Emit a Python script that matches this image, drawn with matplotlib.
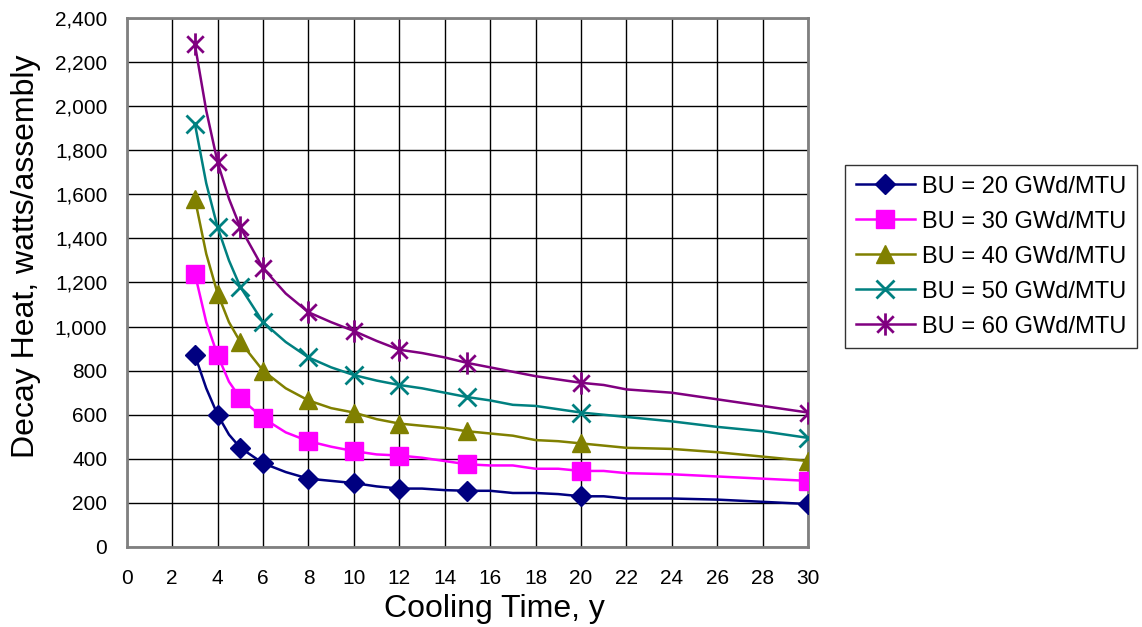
import matplotlib
matplotlib.use("Agg")
import matplotlib.pyplot as plt
from matplotlib.path import Path
from matplotlib.ticker import FuncFormatter

# ---- data ----
line_x = [3, 3.5, 4, 4.5, 5, 6, 7, 8, 9, 10, 11, 12, 13, 14, 15, 16, 17, 18, 19, 20, 21, 22, 24, 26, 28, 30]
marker_x = [3, 4, 5, 6, 8, 10, 12, 15, 20, 30]

bu20 = [870, 720, 600, 510, 450, 380, 340, 310, 300, 290, 275, 265, 265, 258, 255, 255, 245, 245, 240, 230, 230, 220, 220, 215, 205, 195]
bu30 = [1240, 1020, 870, 750, 675, 585, 520, 480, 455, 435, 420, 415, 405, 390, 375, 370, 370, 355, 355, 345, 345, 335, 330, 320, 310, 300]
bu40 = [1580, 1330, 1150, 1020, 930, 800, 720, 665, 630, 610, 580, 560, 550, 540, 525, 515, 505, 485, 480, 470, 460, 450, 445, 430, 410, 390]
bu50 = [1920, 1650, 1450, 1300, 1180, 1020, 930, 860, 815, 780, 755, 735, 720, 700, 680, 665, 645, 640, 625, 610, 600, 590, 570, 545, 525, 495]
bu60 = [2280, 1980, 1745, 1580, 1450, 1265, 1150, 1065, 1020, 980, 935, 895, 880, 860, 835, 815, 795, 775, 760, 745, 735, 715, 700, 670, 640, 610]

labels = ["BU = 20 GWd/MTU", "BU = 30 GWd/MTU", "BU = 40 GWd/MTU",
          "BU = 50 GWd/MTU", "BU = 60 GWd/MTU"]
colors = ["#000080", "#FF00FF", "#808000", "#008080", "#800080"]

x_ticks = list(range(0, 31, 2))
y_ticks = list(range(0, 2401, 200))

plt.rcParams["font.family"] = ["Liberation Sans", "DejaVu Sans"]

# asterisk marker (x plus vertical bar)
star = Path([(-1, -1), (1, 1), (-1, 1), (1, -1), (0, -1.35), (0, 1.35)],
            [Path.MOVETO, Path.LINETO, Path.MOVETO, Path.LINETO, Path.MOVETO, Path.LINETO])

fig = plt.figure(figsize=(11.42, 6.27), dpi=100)
ax = fig.add_axes([0.111, 0.1276, 0.5966, 0.8437])

series = [bu20, bu30, bu40, bu50, bu60]
mk = [
    dict(marker="D", markersize=10, markeredgewidth=1),
    dict(marker="s", markersize=13, markeredgewidth=1),
    dict(marker="^", markersize=13, markeredgewidth=1),
    dict(marker="x", markersize=13, markeredgewidth=2),
    dict(marker=star, markersize=16, markeredgewidth=2),
]
idx = [line_x.index(v) for v in marker_x]
for ys, c, lab, m in zip(series, colors, labels, mk):
    ax.plot(line_x, ys, color=c, lw=1.8, label=lab, markevery=idx,
            markerfacecolor=c, markeredgecolor=c, zorder=3, **m)

ax.set_xlim(0, 30)
ax.set_ylim(0, 2400)
ax.set_xticks(x_ticks)
ax.set_yticks(y_ticks)
ax.yaxis.set_major_formatter(FuncFormatter(lambda v, p: f"{int(v):,}"))
ax.grid(True, color="black", lw=1.0)
ax.set_axisbelow(True)
for s in ax.spines.values():
    s.set_color("#808080")
    s.set_linewidth(2)
ax.tick_params(axis="x", length=0, pad=16, labelsize=15)
ax.tick_params(axis="y", length=0, pad=14, labelsize=15)

ax.set_xlabel("Cooling Time, y", fontsize=23)
ax.set_ylabel("Decay Heat, watts/assembly", fontsize=23)
ax.xaxis.set_label_coords(0.539, -0.088)
ax.yaxis.set_label_coords(-0.126, 0.55)

leg = fig.legend(loc="upper left", bbox_to_anchor=(845 / 1142, 1 - 165 / 627),
                 borderaxespad=0, fontsize=17, frameon=True, fancybox=False,
                 borderpad=0.45, handlelength=2.5, labelspacing=0.55, handletextpad=0.3)
leg.get_frame().set_edgecolor("black")
leg.get_frame().set_linewidth(1)

fig.savefig("out.png", dpi=100)
